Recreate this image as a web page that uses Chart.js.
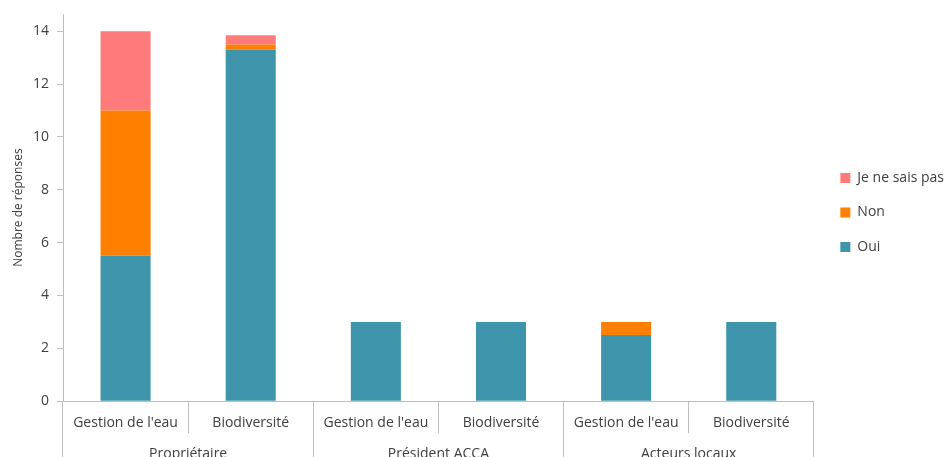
<!DOCTYPE html>
<html>
<head>
<meta charset="utf-8">
<script src="https://cdn.jsdelivr.net/npm/chart.js@4/dist/chart.umd.min.js"></script>
<style>
  html, body { margin: 0; padding: 0; background: #fff; overflow: hidden; }
  canvas { display: block; }
</style>
</head>
<body>
<canvas id="chart" width="945" height="462"></canvas>
<script>
const subLabels = ["Gestion de l'eau", 'Biodiversité', "Gestion de l'eau", 'Biodiversité', "Gestion de l'eau", 'Biodiversité'];
const groupLabels = ['Propriétaire', 'Président ACCA', 'Acteurs locaux'];
const oui = [5.5, 13.3, 3, 3, 2.5, 3];
const non = [5.5, 0.2, 0, 0, 0.5, 0];
const nsp = [3, 0.35, 0, 0, 0, 0];
const yTicks = [0, 2, 4, 6, 8, 10, 12, 14];

const axisColor = '#bfbfbf';
const textColor = '#404040';
const font = { family: 'Open Sans', size: 14 };

// zero-height axis, only there to draw the divider lines under the x axis
function lineAxis(labels, len) {
  return {
    type: 'category',
    axis: 'x',
    position: 'bottom',
    weight: 0,
    labels,
    offset: true,
    border: { display: false },
    grid: { offset: true, drawOnChartArea: false, tickLength: len, color: axisColor },
    ticks: { display: false },
    afterFit: s => { s.height = 0; },
  };
}

new Chart(document.getElementById('chart'), {
  type: 'bar',
  data: {
    labels: subLabels,
    datasets: [
      { label: 'Oui', data: oui, backgroundColor: '#3d94ab', xAxisID: 'x' },
      { label: 'Non', data: non, backgroundColor: '#ff7f00', xAxisID: 'x' },
      { label: 'Je ne sais pas', data: nsp, backgroundColor: '#ff7b7b', xAxisID: 'x' },
    ],
  },
  options: {
    responsive: false,
    animation: false,
    barPercentage: 0.4,
    categoryPercentage: 1,
    layout: { padding: { top: 14, left: 0, right: -9, bottom: 0 } },
    plugins: {
      legend: {
        position: 'right',
        fullSize: false,
        reverse: true,
        title: { display: true, text: '', padding: 0, font: { size: 8 } },
        labels: { boxWidth: 10, boxHeight: 10, padding: 20.5, color: textColor, font },
      },
      tooltip: { enabled: false },
    },
    scales: {
      x: {
        stacked: true,
        offset: true,
        weight: 1,
        border: { display: true, color: axisColor },
        grid: { offset: true, drawOnChartArea: false, drawTicks: false },
        ticks: { color: textColor, font, padding: 13.6, maxRotation: 0, autoSkip: false },
      },
      xSub: lineAxis(subLabels, 32),
      xGrp: lineAxis(groupLabels, 70),
      x2: {
        type: 'category',
        axis: 'x',
        position: 'bottom',
        weight: 2,
        labels: groupLabels,
        offset: true,
        border: { display: false },
        grid: { display: false, drawTicks: false },
        ticks: { color: textColor, font, padding: 0, maxRotation: 0, autoSkip: false },
      },
      y: {
        stacked: true,
        min: 0,
        max: 14.65,
        border: { display: true, color: axisColor },
        grid: { drawOnChartArea: false, tickLength: 6, color: axisColor },
        ticks: { stepSize: 2, color: textColor, font, padding: 8 },
        afterBuildTicks: s => { s.ticks = yTicks.map(v => ({ value: v })); },
        afterFit: s => { s.width = 63; s.paddingTop = 0; s.paddingBottom = 0; },
        title: {
          display: true,
          text: 'Nombre de réponses',
          color: textColor,
          font: { family: 'Open Sans', size: 12 },
          padding: { top: 11, bottom: 4 },
        },
      },
      yR: {
        position: 'right',
        display: true,
        border: { display: false },
        grid: { display: false },
        ticks: { display: false },
        afterFit: s => { s.width = 6; },
      },
    },
  },
});
</script>
</body>
</html>
